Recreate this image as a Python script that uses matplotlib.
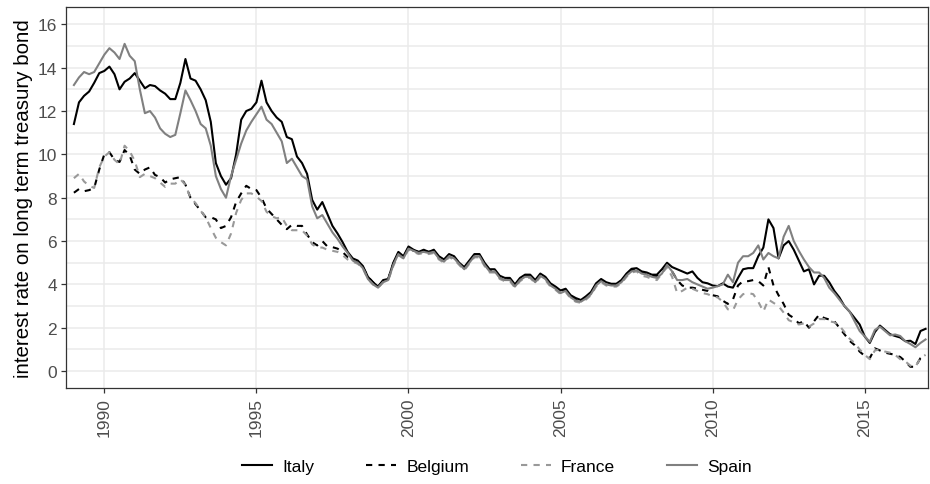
import numpy as np
import matplotlib
matplotlib.use("Agg")
import matplotlib.pyplot as plt
from matplotlib.ticker import MultipleLocator

# ---- data (bi-monthly readings, Jan 1989 .. Jan 2017) ----
start_year = 1989
months_step = 2

italy = [
    11.4, 12.4, 12.7, 12.9, 13.3, 13.75,
    13.85, 14.05, 13.7, 13.0, 13.35, 13.5,
    13.75, 13.4, 13.05, 13.2, 13.15, 12.95,
    12.8, 12.55, 12.55, 13.3, 14.4, 13.5,
    13.4, 13.0, 12.5, 11.5, 9.6, 9.0,
    8.6, 8.9, 10.0, 11.6, 12.0, 12.1,
    12.4, 13.4, 12.4, 12.0, 11.7, 11.5,
    10.8, 10.7, 9.9, 9.6, 9.1, 7.9,
    7.45, 7.8, 7.25, 6.7, 6.35, 5.95,
    5.5, 5.2, 5.1, 4.85, 4.35, 4.1,
    3.9, 4.2, 4.25, 5.0, 5.5, 5.3,
    5.75, 5.6, 5.5, 5.6, 5.5, 5.6,
    5.3, 5.15, 5.4, 5.3, 5.0, 4.8,
    5.1, 5.4, 5.4, 5.0, 4.7, 4.7,
    4.4, 4.3, 4.3, 4.0, 4.3, 4.45,
    4.45, 4.2, 4.5, 4.35, 4.05, 3.9,
    3.72, 3.8, 3.5, 3.37, 3.28, 3.45,
    3.65, 4.05, 4.25, 4.1, 4.03, 4.03,
    4.2, 4.5, 4.72, 4.75, 4.6, 4.55,
    4.45, 4.45, 4.7, 5.0, 4.8, 4.7,
    4.6, 4.5, 4.6, 4.3, 4.1, 4.05,
    3.95, 3.92, 4.05, 3.9, 3.85, 4.3,
    4.7, 4.75, 4.75, 5.3, 5.7, 7.0,
    6.6, 5.2, 5.8, 6.0, 5.6, 5.1,
    4.6, 4.7, 4.0, 4.4, 4.4, 4.1,
    3.7, 3.4, 3.0, 2.75, 2.45, 2.15,
    1.6, 1.3, 1.8, 2.1, 1.9, 1.7,
    1.62, 1.55, 1.38, 1.4, 1.25, 1.85,
    1.95,
]

belgium = [
    8.23, 8.4, 8.3, 8.35, 8.45, 9.3,
    10.0, 10.1, 9.75, 9.65, 10.2, 9.95,
    9.3, 9.1, 9.3, 9.4, 9.05, 8.95,
    8.7, 8.85, 8.9, 8.95, 8.6, 8.0,
    7.7, 7.4, 7.1, 7.1, 7.0, 6.6,
    6.7, 7.1, 7.8, 8.2, 8.55, 8.4,
    8.35, 8.0, 7.5, 7.25, 7.0, 6.75,
    6.55, 6.75, 6.7, 6.7, 6.3, 5.95,
    5.8, 6.0, 5.75, 5.72, 5.65, 5.5,
    5.25, 5.1, 5.0, 4.8, 4.35, 4.1,
    3.9, 4.15, 4.25, 4.95, 5.45, 5.25,
    5.7, 5.55, 5.5, 5.55, 5.5, 5.55,
    5.25, 5.1, 5.35, 5.25, 4.95, 4.75,
    5.05, 5.35, 5.35, 4.95, 4.65, 4.65,
    4.35, 4.25, 4.25, 3.95, 4.25, 4.4,
    4.4, 4.15, 4.45, 4.3, 4.0, 3.85,
    3.65, 3.75, 3.45, 3.3, 3.22, 3.4,
    3.6, 4.0, 4.2, 4.05, 4.0, 4.0,
    4.15, 4.45, 4.65, 4.7, 4.55, 4.5,
    4.4, 4.4, 4.6, 4.8, 4.6, 4.2,
    3.95, 3.85, 3.85, 3.8, 3.75, 3.7,
    3.5, 3.45, 3.25, 3.1, 3.3, 3.95,
    4.15, 4.15, 4.2, 4.15, 3.95, 4.8,
    3.95, 3.5, 3.1, 2.6, 2.45, 2.2,
    2.3, 2.0, 2.3, 2.6, 2.45, 2.38,
    2.3, 2.0, 1.7, 1.4, 1.2, 0.9,
    0.7, 0.6, 1.05, 0.95, 0.85, 0.8,
    0.75, 0.65, 0.45, 0.2, 0.2, 0.6,
    0.77,
]

france = [
    8.9, 9.1, 8.75, 8.55, 8.45, 9.4,
    9.9, 10.1, 9.75, 9.55, 10.4, 10.15,
    9.7, 8.95, 9.1, 9.0, 8.9, 8.7,
    8.5, 8.65, 8.65, 8.85, 8.6, 8.0,
    7.75, 7.4, 7.1, 6.6, 6.15, 5.95,
    5.8, 6.35, 7.3, 7.9, 8.2, 8.2,
    8.05, 7.85, 7.35, 7.15, 7.05, 7.1,
    6.7, 6.5, 6.5, 6.5, 6.25, 5.85,
    5.7, 5.7, 5.6, 5.55, 5.5, 5.35,
    5.15, 5.05, 4.95, 4.75, 4.25, 4.0,
    3.85, 4.1, 4.2, 4.85, 5.35, 5.2,
    5.6, 5.5, 5.4, 5.45, 5.4, 5.45,
    5.15, 5.0, 5.25, 5.15, 4.9, 4.65,
    4.95, 5.25, 5.25, 4.85, 4.55, 4.55,
    4.25, 4.15, 4.15, 3.85, 4.15, 4.3,
    4.3, 4.05, 4.35, 4.2, 3.9, 3.75,
    3.55, 3.65, 3.35, 3.2, 3.15, 3.3,
    3.5, 3.9, 4.1, 3.95, 3.9, 3.9,
    4.05, 4.35, 4.55, 4.6, 4.4, 4.35,
    4.25, 4.2, 4.5, 4.8, 4.35, 3.6,
    3.7, 3.85, 3.8, 3.7, 3.6, 3.55,
    3.45, 3.4, 3.2, 2.85, 2.8, 3.3,
    3.55, 3.6, 3.55, 3.2, 2.75, 3.3,
    3.15, 3.0, 2.7, 2.35, 2.25, 2.15,
    2.2, 2.05, 2.2, 2.4, 2.4, 2.3,
    2.25, 2.1, 1.8, 1.5, 1.3, 1.0,
    0.75, 0.55, 0.95, 1.0, 0.9, 0.85,
    0.75, 0.55, 0.45, 0.25, 0.2, 0.6,
    0.75,
]

spain = [
    13.2, 13.55, 13.8, 13.7, 13.8, 14.2,
    14.6, 14.9, 14.7, 14.4, 15.1, 14.55,
    14.3, 13.0, 11.9, 12.0, 11.7, 11.2,
    10.95, 10.8, 10.9, 11.9, 12.95, 12.5,
    12.0, 11.4, 11.2, 10.4, 9.0, 8.4,
    8.0, 9.0, 9.75, 10.5, 11.1, 11.5,
    11.85, 12.2, 11.6, 11.4, 11.0, 10.6,
    9.6, 9.8, 9.4, 9.0, 8.85, 7.6,
    7.05, 7.2, 6.8, 6.4, 6.1, 5.75,
    5.45, 5.1, 5.0, 4.75, 4.25, 4.0,
    3.85, 4.1, 4.2, 4.9, 5.4, 5.2,
    5.65, 5.55, 5.45, 5.5, 5.45, 5.5,
    5.2, 5.05, 5.3, 5.2, 4.95, 4.7,
    5.0, 5.3, 5.3, 4.9, 4.6, 4.6,
    4.3, 4.2, 4.2, 3.9, 4.2, 4.35,
    4.35, 4.1, 4.4, 4.25, 3.95, 3.8,
    3.6, 3.7, 3.4, 3.25, 3.2, 3.35,
    3.55, 3.95, 4.15, 4.0, 3.95, 3.95,
    4.1, 4.4, 4.6, 4.65, 4.5, 4.45,
    4.35, 4.3, 4.5, 4.9, 4.6, 4.2,
    4.2, 4.25, 4.1, 4.0, 3.9, 3.8,
    3.85, 3.92, 4.0, 4.45, 4.1, 5.0,
    5.3, 5.3, 5.45, 5.8, 5.15, 5.45,
    5.3, 5.2, 6.2, 6.7, 6.0, 5.55,
    5.15, 4.8, 4.55, 4.55, 4.3, 3.85,
    3.6, 3.3, 3.0, 2.75, 2.3, 1.85,
    1.6, 1.35, 1.9, 2.05, 1.85, 1.65,
    1.69, 1.62, 1.38, 1.25, 1.1, 1.3,
    1.46,
]

countries = ["Italy", "Belgium", "France", "Spain"]
series = [italy, belgium, france, spain]
colors = ["#000000", "#000000", "#999999", "#808080"]
styles = ["solid", "dashed", "dashed", "solid"]

x_ticks = [1990, 1995, 2000, 2005, 2010, 2015]
y_ticks = [0, 2, 4, 6, 8, 10, 12, 14, 16]
y_label = "interest rate on long term treasury bond"

# ---- figure ----
plt.rcParams["font.family"] = ["Liberation Sans", "DejaVu Sans"]
W, H = 930, 485
fig = plt.figure(figsize=(W / 100, H / 100), dpi=100)
ax = fig.add_axes([66 / W, 1 - 389 / H, (928 - 66) / W, (389 - 8) / H])

for name, vals, col, ls in zip(countries, series, colors, styles):
    t = start_year + np.arange(len(vals)) * months_step / 12.0
    line, = ax.plot(t, vals, color=col, lw=1.5, label=name,
                    solid_joinstyle="round")
    if ls == "dashed":
        line.set_dashes([3.0, 3.0])

ax.set_xlim(1988.74, 2017.08)
ax.set_ylim(-0.78, 16.8)
ax.set_xticks(x_ticks)
ax.set_xticklabels([str(v) for v in x_ticks], rotation=90, va="top", ha="center")
ax.set_yticks(y_ticks)
ax.yaxis.set_minor_locator(MultipleLocator(1))

ax.grid(True, which="major", color="#ebebeb", lw=1.1)
ax.grid(True, which="minor", axis="y", color="#ebebeb", lw=1.1)
ax.set_axisbelow(True)
for s in ax.spines.values():
    s.set_color("#333333")
    s.set_linewidth(0.9)
ax.tick_params(axis="both", which="major", length=3.5, width=0.9,
               color="#333333", labelcolor="#4d4d4d", labelsize=12.5, pad=3)
ax.tick_params(axis="both", which="minor", length=0)
ax.set_ylabel(y_label, fontsize=14.8, color="black", labelpad=3)

handles, labels = ax.get_legend_handles_labels()
fig.legend(handles, labels, loc="center",
           bbox_to_anchor=(497 / W, 1 - 467 / H),
           ncol=4, frameon=False, fontsize=12.5, handlelength=1.7,
           columnspacing=3.0, handletextpad=0.6)

fig.savefig("out.png", dpi=100)
